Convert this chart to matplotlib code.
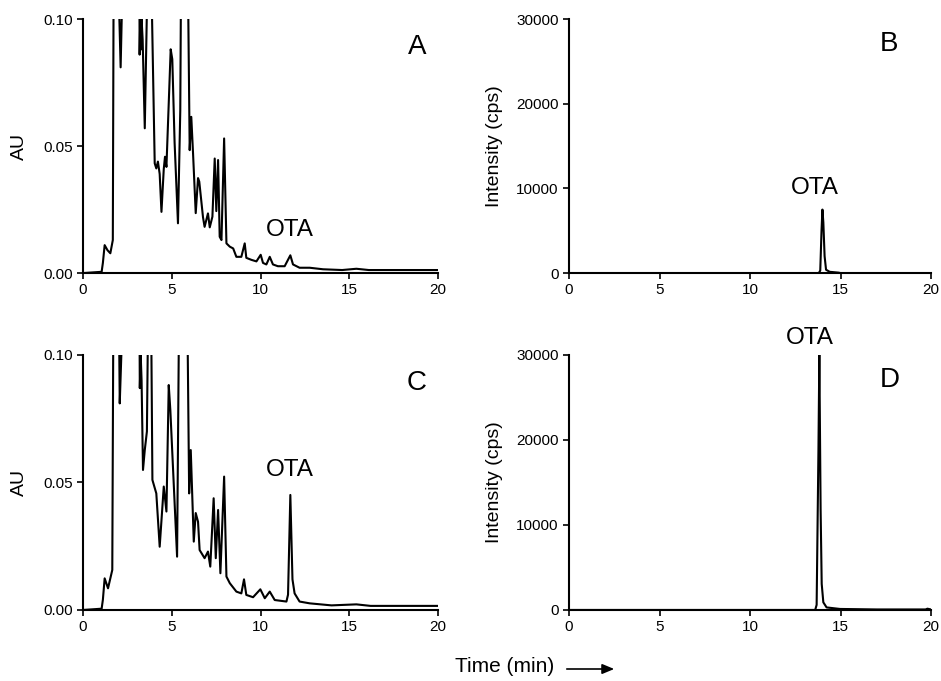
import matplotlib
matplotlib.use("Agg")
import matplotlib.pyplot as plt
from matplotlib.ticker import FormatStrFormatter

plt.rcParams['font.family'] = ['Liberation Sans', 'DejaVu Sans']

# UV chromatograms (AU vs min); 0.15 = off scale
uv_a_time = [0.0, 1.05, 1.12, 1.22, 1.38, 1.54, 1.68, 1.74, 1.97, 2.05, 2.12, 2.18, 2.26,
             3.16, 3.19, 3.22, 3.26, 3.30, 3.36, 3.48, 3.72, 3.76, 4.04, 4.13, 4.22, 4.32,
             4.42, 4.55, 4.62, 4.70, 4.94, 5.03, 5.16, 5.35, 5.48, 5.55, 5.86, 6.01, 6.10,
             6.20, 6.35, 6.48, 6.55, 6.76, 6.85, 7.04, 7.14, 7.29, 7.42, 7.51, 7.61, 7.70,
             7.80, 7.95, 8.08, 8.27, 8.46, 8.64, 8.92, 9.11, 9.20, 9.49, 9.77, 10.01, 10.14,
             10.33, 10.52, 10.70, 10.98, 11.36, 11.68, 11.83, 12.20, 12.77, 13.52, 14.60,
             15.40, 16.10, 20.0]
uv_a_au = [0.0, 0.0005, 0.004, 0.011, 0.009, 0.0078, 0.013, 0.15, 0.15, 0.10, 0.081, 0.10, 0.15,
           0.15, 0.086, 0.098, 0.088, 0.10, 0.092, 0.057, 0.15, 0.15, 0.0432, 0.0412, 0.0439, 0.039,
           0.0241, 0.041, 0.0458, 0.0418, 0.0881, 0.0842, 0.0514, 0.0196, 0.064, 0.15, 0.15, 0.0484, 0.0615,
           0.047, 0.0236, 0.0374, 0.036, 0.022, 0.0182, 0.0235, 0.018, 0.0222, 0.0451, 0.0244, 0.0445, 0.0143,
           0.013, 0.053, 0.0117, 0.0104, 0.0097, 0.0064, 0.0064, 0.0117, 0.006, 0.0052, 0.0046, 0.0072, 0.004,
           0.0034, 0.0064, 0.0034, 0.0027, 0.0027, 0.0070, 0.0034, 0.0021, 0.0021, 0.0015, 0.0012,
           0.0017, 0.0012, 0.0012]

uv_c_time = [0.0, 1.05, 1.12, 1.22, 1.41, 1.65, 1.73, 1.98, 2.07, 2.16, 2.26,
             3.16, 3.20, 3.25, 3.30, 3.38, 3.48, 3.60, 3.72, 3.80, 3.91, 4.13, 4.32, 4.55,
             4.70, 4.83, 4.92, 5.30, 5.45, 5.83, 5.98, 6.07, 6.24, 6.35, 6.48, 6.57, 6.85,
             7.04, 7.17, 7.36, 7.48, 7.61, 7.74, 7.95, 8.08, 8.27, 8.64, 8.92, 9.07, 9.20,
             9.58, 9.99, 10.24, 10.52, 10.80, 11.46, 11.55, 11.68, 11.80, 11.92, 12.20,
             12.77, 14.00, 15.40, 16.20, 20.0]
uv_c_au = [0.0, 0.0005, 0.004, 0.0124, 0.0085, 0.0157, 0.15, 0.15, 0.081, 0.10, 0.15,
           0.15, 0.087, 0.10, 0.09, 0.0549, 0.0627, 0.07, 0.15, 0.15, 0.051, 0.0457, 0.0248, 0.0484,
           0.0386, 0.0882, 0.0784, 0.0209, 0.15, 0.15, 0.0457, 0.0627, 0.0268, 0.038, 0.0346, 0.0235, 0.0203,
           0.0229, 0.017, 0.0438, 0.0203, 0.0392, 0.0144, 0.0523, 0.0131, 0.0105, 0.0072, 0.0065, 0.012, 0.0059,
           0.005, 0.0081, 0.0046, 0.0072, 0.0039, 0.0033, 0.006, 0.0451, 0.012, 0.0065, 0.0033,
           0.0026, 0.0018, 0.0022, 0.0016, 0.0016]

# MS chromatograms (cps vs min)
ms_b_time = [0.0, 13.80, 13.88, 13.95, 14.00, 14.05, 14.12, 14.20, 14.40, 14.90, 15.00, 20.0]
ms_b_cps = [0, 0, 300, 5000, 7500, 6000, 2000, 400, 150, 50, 0, 0]

ms_d_time = [0.0, 13.60, 13.68, 13.78, 13.83, 13.90, 13.96, 14.05, 14.23, 14.97, 17.0, 19.7, 19.8, 20.0]
ms_d_cps = [0, 0, 600, 18800, 30000, 11800, 3070, 900, 300, 120, 60, 60, 150, 60]

fig = plt.figure(figsize=(9.41, 6.81), dpi=100)

def style(ax):
    for s in ['top', 'right']:
        ax.spines[s].set_visible(False)
    for s in ['left', 'bottom']:
        ax.spines[s].set_linewidth(1.5)
    ax.tick_params(direction='out', length=4, width=1.2, labelsize=11, colors='black')
    ax.set_xlim(0, 20)
    ax.set_xticks([0, 5, 10, 15, 20])

panels = [
    ([0.0882, 0.599, 0.3773, 0.373], uv_a_time, uv_a_au, 'A', (11.65, 0.017), 'uv'),
    ([0.6047, 0.599, 0.3847, 0.373], ms_b_time, ms_b_cps, 'B', (13.6, 10100), 'ms'),
    ([0.0882, 0.1043, 0.3773, 0.3745], uv_c_time, uv_c_au, 'C', (11.65, 0.055), 'uv'),
    ([0.6047, 0.1043, 0.3847, 0.3745], ms_d_time, ms_d_cps, 'D', (13.3, 32000), 'ms'),
]

for rect, t, v, letter, ota, kind in panels:
    ax = fig.add_axes(rect)
    ax.plot(t, v, color='black', lw=1.5)
    style(ax)
    if kind == 'uv':
        ax.set_ylim(0, 0.10)
        ax.set_yticks([0, 0.05, 0.10])
        ax.yaxis.set_major_formatter(FormatStrFormatter('%.2f'))
        ax.set_ylabel('AU', fontsize=14)
        ax.yaxis.set_label_coords(-0.155, 0.5)
        ax.text(18.8, 0.089, letter, fontsize=20, ha='center', va='center')
    else:
        ax.set_ylim(0, 30000)
        ax.set_yticks([0, 10000, 20000, 30000])
        ax.set_ylabel('Intensity (cps)', fontsize=14)
        ax.yaxis.set_label_coords(-0.182, 0.5)
        ax.text(17.7, 27000, letter, fontsize=20, ha='center', va='center')
    ax.text(ota[0], ota[1], 'OTA', fontsize=17.5, ha='center', va='center')

fig.text(505 / 941, 1 - 667 / 681, 'Time (min)', fontsize=15, ha='center', va='center')
fig.add_artist(matplotlib.patches.FancyArrowPatch(
    (564 / 941, 1 - 669 / 681), (617 / 941, 1 - 669 / 681),
    transform=fig.transFigure, arrowstyle='-|>,head_length=0.6,head_width=0.25',
    color='black', lw=1.2, mutation_scale=12))

fig.savefig('out.png', dpi=100)
